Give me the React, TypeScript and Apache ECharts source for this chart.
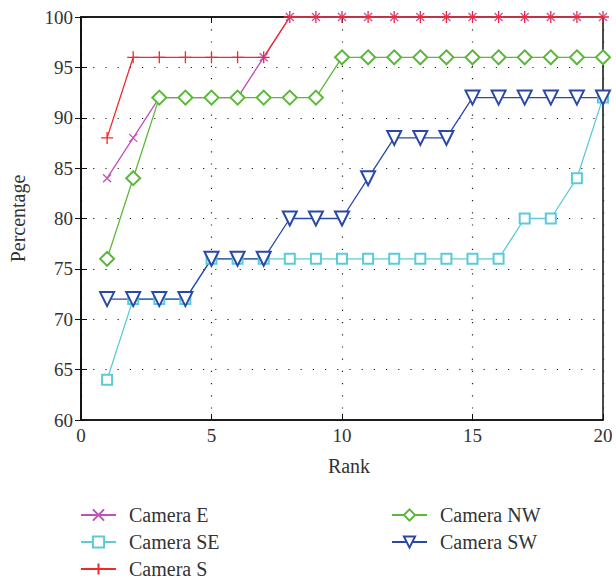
import React, { useEffect, useRef } from "react";
import * as echarts from "echarts";

const ranks = [1, 2, 3, 4, 5, 6, 7, 8, 9, 10, 11, 12, 13, 14, 15, 16, 17, 18, 19, 20];
const cameraE = [84, 88, 92, 92, 92, 92, 96, 100, 100, 100, 100, 100, 100, 100, 100, 100, 100, 100, 100, 100];
const cameraSE = [64, 72, 72, 72, 76, 76, 76, 76, 76, 76, 76, 76, 76, 76, 76, 76, 80, 80, 84, 92];
const cameraS = [88, 96, 96, 96, 96, 96, 96, 100, 100, 100, 100, 100, 100, 100, 100, 100, 100, 100, 100, 100];
const cameraNW = [76, 84, 92, 92, 92, 92, 92, 92, 92, 96, 96, 96, 96, 96, 96, 96, 96, 96, 96, 96];
const cameraSW = [72, 72, 72, 72, 76, 76, 76, 80, 80, 80, 84, 88, 88, 88, 92, 92, 92, 92, 92, 92];

const FONT = "Liberation Serif";
const TEXT = "#333333";

const pairs = (vals: number[]) => ranks.map((r, i) => [r, vals[i]]);

export default function App() {
  const ref = useRef<HTMLDivElement>(null);
  useEffect(() => {
    if (!ref.current) return;
    const chart = echarts.init(ref.current, null, { renderer: "svg" });
    const splitLine = { show: true, lineStyle: { color: "#222", type: [1.2, 11], width: 1.2 } };
    const mk = (name: string, data: number[], color: string, symbol: string, size: number, extra: any = {}) => ({
      name,
      type: "line",
      data: pairs(data),
      symbol,
      symbolSize: size,
      showAllSymbol: true,
      lineStyle: { color, width: 1.3 },
      itemStyle: { color, borderColor: color, borderWidth: 1.3 },
      ...extra,
    });
    const lg = (name: string, left: number, top: number) => ({
      data: [name],
      left,
      top,
      padding: 0,
      itemWidth: 35,
      itemHeight: 14,
      textStyle: { fontFamily: FONT, fontSize: 20, color: TEXT, padding: [0, 0, 0, 8] },
    });
    chart.setOption({
      animation: false,
      backgroundColor: "#fff",
      textStyle: { fontFamily: FONT },
      grid: { left: 80, right: 13, top: 17, bottom: 160, show: true, borderColor: "#111", borderWidth: 1.5 },
      xAxis: [
        {
          type: "value", min: 0, max: 20, interval: 5,
          name: "Rank", nameLocation: "middle", nameGap: 36,
          nameTextStyle: { fontFamily: FONT, fontSize: 20, color: TEXT, padding: [0, 0, 0, 14] },
          axisLine: { show: true, lineStyle: { color: "#111", width: 1.5 } },
          axisTick: { show: true, inside: true, length: 6, lineStyle: { color: "#111" } },
          axisLabel: { fontFamily: FONT, fontSize: 19, color: TEXT, margin: 6 },
          splitLine,
        },
        {
          type: "value", min: 0, max: 20, interval: 5, position: "top",
          axisLine: { show: true, lineStyle: { color: "#111", width: 1.5 } },
          axisTick: { show: true, inside: true, length: 6, lineStyle: { color: "#111" } },
          axisLabel: { show: false },
          splitLine: { show: false },
        },
      ],
      yAxis: [
        {
          type: "value", min: 60, max: 100, interval: 5,
          name: "Percentage", nameLocation: "middle", nameGap: 53,
          nameTextStyle: { fontFamily: FONT, fontSize: 20, color: TEXT },
          axisLine: { show: true, lineStyle: { color: "#111", width: 1.5 } },
          axisTick: { show: true, inside: true, length: 6, lineStyle: { color: "#111" } },
          axisLabel: { fontFamily: FONT, fontSize: 19, color: TEXT, margin: 8 },
          splitLine,
        },
        {
          type: "value", min: 60, max: 100, interval: 5, position: "right",
          axisLine: { show: true, lineStyle: { color: "#111", width: 1.5 } },
          axisTick: { show: true, inside: true, length: 6, lineStyle: { color: "#111" } },
          axisLabel: { show: false },
          splitLine: { show: false },
        },
      ],
      legend: [
        lg("Camera E", 80, 505),
        lg("Camera SE", 80, 532),
        lg("Camera S", 80, 559),
        lg("Camera NW", 391, 505),
        lg("Camera SW", 391, 532),
      ],
      series: [
        mk("Camera E", cameraE, "#c24fb5", "path://M0,0L10,10M10,0L0,10", 8),
        mk("Camera SE", cameraSE, "#5ccbd8", "emptyRect", 10),
        mk("Camera S", cameraS, "#ee2a2a", "path://M5,0L5,10M0,5L10,5", 12),
        mk("Camera NW", cameraNW, "#5cb83a", "emptyDiamond", 14),
        mk("Camera SW", cameraSW, "#2a48a8", "emptyTriangle", 14, { symbolRotate: 180 }),
      ],
    });
    return () => chart.dispose();
  }, []);
  return <div ref={ref} style={{ position: "absolute", left: 0, top: 0, width: 616, height: 580 }} />;
}
